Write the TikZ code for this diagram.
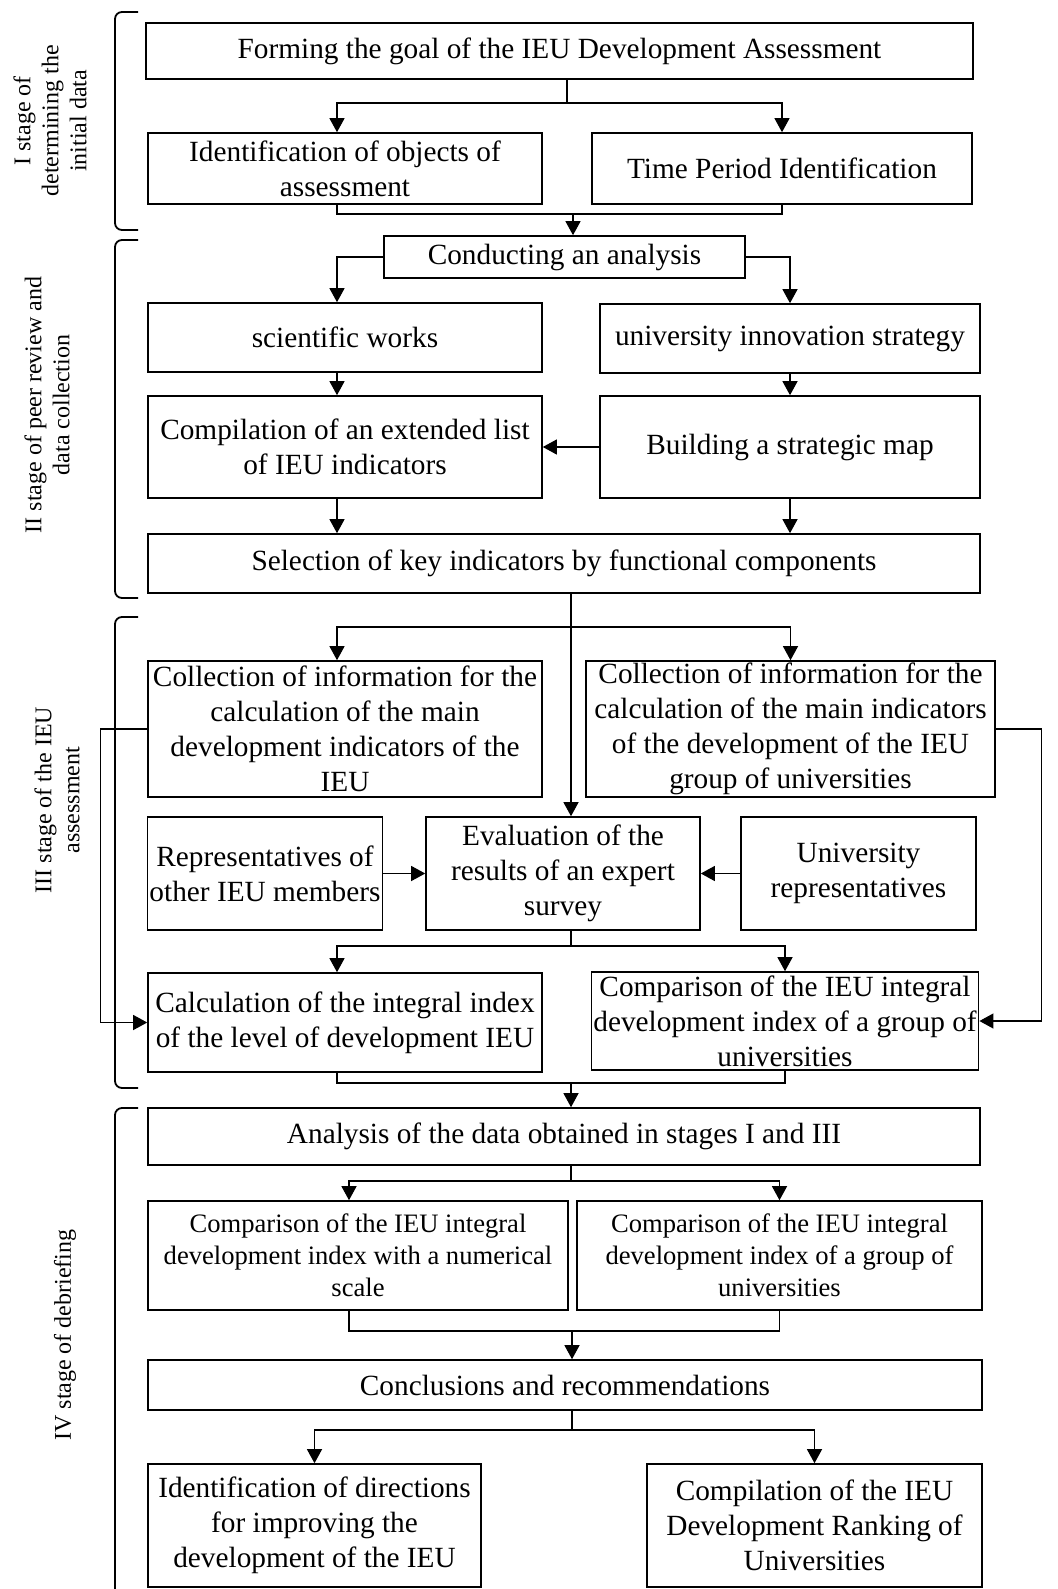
\documentclass[tikz,border=0pt]{standalone}
\usepackage{fontspec}
\setmainfont{Liberation Serif}
\usetikzlibrary{positioning,arrows.meta}
\tikzset{
  blk/.style={draw,line width=1.6pt,inner xsep=2pt,inner ysep=0pt,align=center,font=\fontsize{29.3}{35}\selectfont},
  blksm/.style={blk,font=\fontsize{26.6}{32}\selectfont},
  arr/.style={-{Triangle[length=14pt,width=15pt]},line width=1.2pt},
  lnk/.style={line width=1.2pt},
  brace/.style={line width=1.8pt,rounded corners=7pt},
  stagelbl/.style={rotate=90,align=center,font=\fontsize{24}{28}\selectfont},
}

\begin{document}
\begin{tikzpicture}[x=1pt,y=-1pt]
  \useasboundingbox (0,0) rectangle (1057,1589);
  % stage I
  \node[blk,minimum width=827,minimum height=56] (goal) at (559.5,51) {Forming the goal of the IEU Development Assessment};
  \node[blk,minimum width=394,minimum height=71] (ident) at (345,168.5) {Identification of objects of\\assessment};
  \node[blk,minimum width=380,minimum height=71] (timep) at (782,168.5) {Time Period Identification};
  % stage II
  \node[blk,minimum width=361,minimum height=42] (conduct) at (564.5,257) {Conducting an analysis};
  \node[blk,minimum width=394,minimum height=69] (sci) at (345,337.5) {scientific works};
  \node[blk,minimum width=380,minimum height=69] (strat) at (790,338.5) {university innovation strategy};
  \node[blk,minimum width=394,minimum height=102] (compil) at (345,447) {Compilation of an extended list\\of IEU indicators};
  \node[blk,minimum width=380,minimum height=102] (map) at (790,447) {Building a strategic map};
  \node[blk,minimum width=832,minimum height=59] (select) at (564,563.5) {Selection of key indicators by functional components};
  % stage III
  \node[blk,minimum width=394,minimum height=136] (collA) at (345,729) {Collection of information for the\\calculation of the main\\development indicators of the\\IEU};
  \node[blk,minimum width=409,minimum height=136] (collB) at (790.5,729) {Collection of information for the\\calculation of the main indicators\\of the development of the IEU\\group of universities};
  \node[blk,minimum width=234,minimum height=113] (repA) at (265,873.5) {Representatives of\\other IEU members};
  \node[blk,minimum width=274,minimum height=113] (evalx) at (563,873.5) {Evaluation of the\\results of an expert\\survey};
  \node[blk,minimum width=235,minimum height=113] (repB) at (858.5,873.5) {University\\representatives};
  \node[blk,minimum width=394,minimum height=99] (calc) at (345,1022.5) {Calculation of the integral index\\of the level of development IEU};
  \node[blk,minimum width=382,minimum height=98] (cmpA) at (785,1021) {Comparison of the IEU integral\\development index of a group of\\universities};
  % stage IV
  \node[blk,minimum width=832,minimum height=57] (analys) at (564,1136.5) {Analysis of the data obtained in stages I and III};
  \node[blksm,minimum width=420,minimum height=109] (cmpNum) at (358,1255.5) {Comparison of the IEU integral\\development index with a numerical\\scale};
  \node[blksm,minimum width=405,minimum height=109] (cmpGrp) at (779.5,1255.5) {Comparison of the IEU integral\\development index of a group of\\universities};
  \node[blk,minimum width=834,minimum height=50] (concl) at (565,1385) {Conclusions and recommendations};
  \node[blk,minimum width=333,minimum height=123] (dirs) at (314.5,1525.5) {Identification of directions\\for improving the\\development of the IEU};
  \node[blk,minimum width=335,minimum height=123] (rank) at (814.5,1525.5) {Compilation of the IEU\\Development Ranking of\\Universities};

  % stage labels and brackets
  \node[stagelbl] (lab1) at (50,121) {I stage of\\determining the\\initial data};
  \node[stagelbl] (lab2) at (47,405) {II stage of peer review and\\data collection};
  \node[stagelbl] (lab3) at (57,800) {III stage of the IEU\\assessment};
  \node[stagelbl] (lab4) at (65,1335) {IV stage of debriefing};
  \foreach \a/\b in {12/230,240/598,617/1088}
    \draw[brace] (138,\a) -- (115,\a) -- (115,\b) -- (138,\b);
  \draw[brace] (138,1108) -- (115,1108) -- (115,1600);

  % junctions
  \coordinate (j0) at (567,103);
  \coordinate (j1) at (573,214);
  \coordinate (j2) at (571,627);
  \coordinate (j3) at (571,946);
  \coordinate (j4) at (571,1083);
  \coordinate (j5) at (571,1181);
  \coordinate (j6) at (572,1331);
  \coordinate (j7) at (572,1430);

  % connectors
  \draw[lnk] (goal.south -| j0) -- (j0);
  \draw[arr] (j0) -| ([xshift=-8pt]ident.north);
  \draw[arr] (j0) -| (timep.north);
  \draw[lnk] ([xshift=-8pt]ident.south) |- (j1) -| (timep.south);
  \draw[arr] (j1) -- (conduct.north -| j1);
  \draw[arr] (conduct.west) -| ([xshift=-8pt]sci.north);
  \draw[arr] (conduct.east) -| (strat.north);
  \draw[arr] ([xshift=-8pt]sci.south) -- ([xshift=-8pt]compil.north);
  \draw[arr] (strat.south) -- (map.north);
  \draw[arr] (map.west) -- (compil.east);
  \draw[arr] ([xshift=-8pt]compil.south) -- ([xshift=-8pt]compil.south |- select.north);
  \draw[arr] (map.south) -- (map.south |- select.north);
  \draw[arr] (select.south -| j2) -- (evalx.north -| j2);
  \draw[arr] (j2) -| ([xshift=-8pt]collA.north);
  \draw[arr] (j2) -| (collB.north);
  \draw[arr] (repA.east) -- (evalx.west);
  \draw[arr] (repB.west) -- (evalx.east);
  \draw[lnk] (evalx.south -| j3) -- (j3);
  \draw[arr] (j3) -| ([xshift=-8pt]calc.north);
  \draw[arr] (j3) -| (cmpA.north);
  \draw[arr] (collA.west) -- ++(-47,0) |- (calc.west);
  \draw[arr] (collB.east) -- ++(46,0) |- (cmpA.east);
  \draw[lnk] ([xshift=-8pt]calc.south) |- (j4) -| (cmpA.south);
  \draw[arr] (j4) -- (analys.north -| j4);
  \draw[lnk] (analys.south -| j5) -- (j5);
  \draw[arr] (j5) -| ([xshift=-9pt]cmpNum.north);
  \draw[arr] (j5) -| (cmpGrp.north);
  \draw[lnk] ([xshift=-9pt]cmpNum.south) |- (j6) -| (cmpGrp.south);
  \draw[arr] (j6) -- (concl.north -| j6);
  \draw[lnk] (concl.south -| j7) -- (j7);
  \draw[arr] (j7) -| (dirs.north);
  \draw[arr] (j7) -| (rank.north);
\end{tikzpicture}
\end{document}
